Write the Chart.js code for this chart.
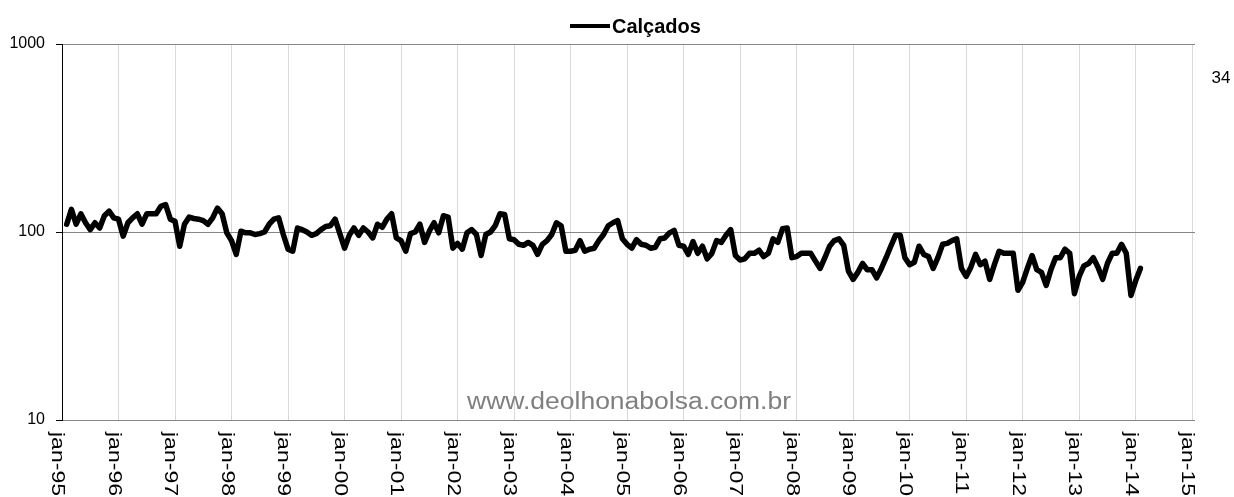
<!DOCTYPE html>
<html>
<head>
<meta charset="utf-8">
<script src="https://cdn.jsdelivr.net/npm/chart.js@4/dist/chart.umd.min.js"></script>
<style>
  html, body { margin: 0; padding: 0; background: #fff; }
  canvas { display: block; }
</style>
</head>
<body>
<canvas id="chart" width="1234" height="497"></canvas>
<script>
// monthly index, first value is feb-95 (month 1 counted from jan-95)
const seriesLabel = 'Calçados';
const firstMonth = 1;
const calcados = [
    110, 132, 110, 125, 112, 103, 112, 105, 122, 129, 119, 117,
    95, 112, 119, 125, 110, 125, 125, 125, 137, 140, 117, 114,
    84, 110, 120, 118, 117, 115, 110, 119, 134, 125, 99, 90,
    76, 101, 99, 99, 97, 98, 100, 110, 117, 119, 97, 81,
    79, 105, 103, 100, 96, 98, 103, 107, 108, 117, 98, 82,
    96, 105, 96, 105, 100, 93, 110, 106, 117, 125, 93, 90,
    79, 98, 100, 110, 88, 101, 112, 99, 122, 120, 82, 87,
    81, 99, 103, 97, 75, 97, 100, 108, 125, 124, 92, 91,
    86, 85, 88, 85, 76, 86, 90, 97, 112, 108, 79, 79,
    80, 90, 79, 81, 82, 90, 97, 108, 112, 115, 92, 86,
    82, 91, 86, 85, 82, 83, 92, 93, 99, 102, 85, 84,
    76, 89, 77, 84, 72, 77, 90, 88, 96, 103, 75, 71,
    72, 77, 77, 80, 74, 77, 92, 88, 104, 105, 73, 74,
    77, 77, 77, 70, 64, 73, 84, 90, 92, 85, 62, 56,
    61, 68, 63, 63, 57, 64, 73, 84, 96, 96, 73, 67,
    69, 84, 76, 74, 64, 73, 86, 87, 90, 92, 64, 58,
    65, 76, 67, 70, 56, 67, 79, 77, 77, 77, 49, 54,
    64, 75, 63, 61, 52, 63, 73, 73, 81, 77, 47, 58,
    66, 68, 73, 65, 56, 68, 77, 77, 86, 77, 46, 55,
    64
];
const yearTicks = [0, 12, 24, 36, 48, 60, 72, 84, 96, 108, 120, 132, 144, 156, 168, 180, 192, 204, 216, 228, 240];
const yearLabels = ['jan-95', 'jan-96', 'jan-97', 'jan-98', 'jan-99', 'jan-00', 'jan-01', 'jan-02', 'jan-03', 'jan-04',
    'jan-05', 'jan-06', 'jan-07', 'jan-08', 'jan-09', 'jan-10', 'jan-11', 'jan-12', 'jan-13', 'jan-14', 'jan-15'];
const yTicks = [10, 100, 1000];

const FONT = '"Liberation Sans", Arial, sans-serif';

let points = calcados.map((v, i) => ({x: firstMonth + i, y: v}));

const extras = {
    id: 'extras',
    afterDraw(chart) {
        let ctx = chart.ctx;
        let xs = chart.scales.x;
        let area = chart.chartArea;

        // rotated date labels, reading top to bottom
        ctx.save();
        ctx.fillStyle = '#000';
        ctx.font = '18px ' + FONT;
        ctx.textAlign = 'left';
        ctx.textBaseline = 'middle';
        yearTicks.forEach((v, i) => {
            let px = xs.getPixelForValue(v);
            ctx.save();
            ctx.translate(px - 5, area.bottom + 12);
            ctx.rotate(Math.PI / 2);
            ctx.scale(1.28, 1);
            ctx.fillText(yearLabels[i], 0, 0);
            ctx.restore();
        });
        ctx.restore();

        // legend
        ctx.save();
        ctx.strokeStyle = '#000';
        ctx.lineWidth = 4;
        ctx.beginPath();
        ctx.moveTo(570, 26);
        ctx.lineTo(610, 26);
        ctx.stroke();
        ctx.fillStyle = '#000';
        ctx.font = 'bold 20px ' + FONT;
        ctx.textAlign = 'left';
        ctx.textBaseline = 'middle';
        ctx.fillText(chart.data.datasets[0].label, 612, 27);
        ctx.restore();

        // side number
        ctx.save();
        ctx.fillStyle = '#000';
        ctx.font = '17px ' + FONT;
        ctx.textAlign = 'center';
        ctx.textBaseline = 'middle';
        ctx.fillText('34', 1221, 78);
        ctx.restore();

        // watermark
        ctx.save();
        ctx.fillStyle = '#7f7f7f';
        ctx.font = '23px ' + FONT;
        ctx.textAlign = 'center';
        ctx.textBaseline = 'middle';
        let wm = 'www.deolhonabolsa.com.br';
        let w = ctx.measureText(wm).width;
        ctx.translate(629, 403);
        ctx.scale(324 / w, 1);
        ctx.fillText(wm, 0, 0);
        ctx.restore();
    }
};

new Chart(document.getElementById('chart'), {
    type: 'line',
    data: {
        datasets: [{
            label: seriesLabel,
            data: points,
            borderColor: '#000',
            borderWidth: 5.5,
            pointRadius: 0,
            tension: 0,
            borderJoinStyle: 'round',
            borderCapStyle: 'round'
        }]
    },
    options: {
        responsive: false,
        animation: false,
        devicePixelRatio: 1,
        layout: {padding: {top: 44, right: 39, left: 0, bottom: 0}},
        plugins: {
            legend: {display: false},
            tooltip: {enabled: false}
        },
        scales: {
            x: {
                type: 'linear',
                min: 0,
                max: 240.6,
                afterBuildTicks: (scale) => {
                    scale.ticks = yearTicks.map(v => ({value: v}));
                },
                afterFit: (scale) => { scale.height = 77; },
                ticks: {display: false},
                grid: {color: '#d9d9d9', lineWidth: 1, drawTicks: false},
                border: {display: false}
            },
            y: {
                type: 'logarithmic',
                min: 10,
                max: 1000,
                afterBuildTicks: (scale) => {
                    scale.ticks = yTicks.map(v => ({value: v}));
                },
                afterFit: (scale) => { scale.width = 62; },
                ticks: {
                    color: '#000',
                    font: {family: FONT, size: 16},
                    padding: 11,
                    callback: (v) => String(v)
                },
                grid: {color: '#868686', lineWidth: 1, tickLength: 6, tickColor: '#000'},
                border: {display: true, color: '#000', width: 1}
            }
        }
    },
    plugins: [extras]
});
</script>
</body>
</html>
